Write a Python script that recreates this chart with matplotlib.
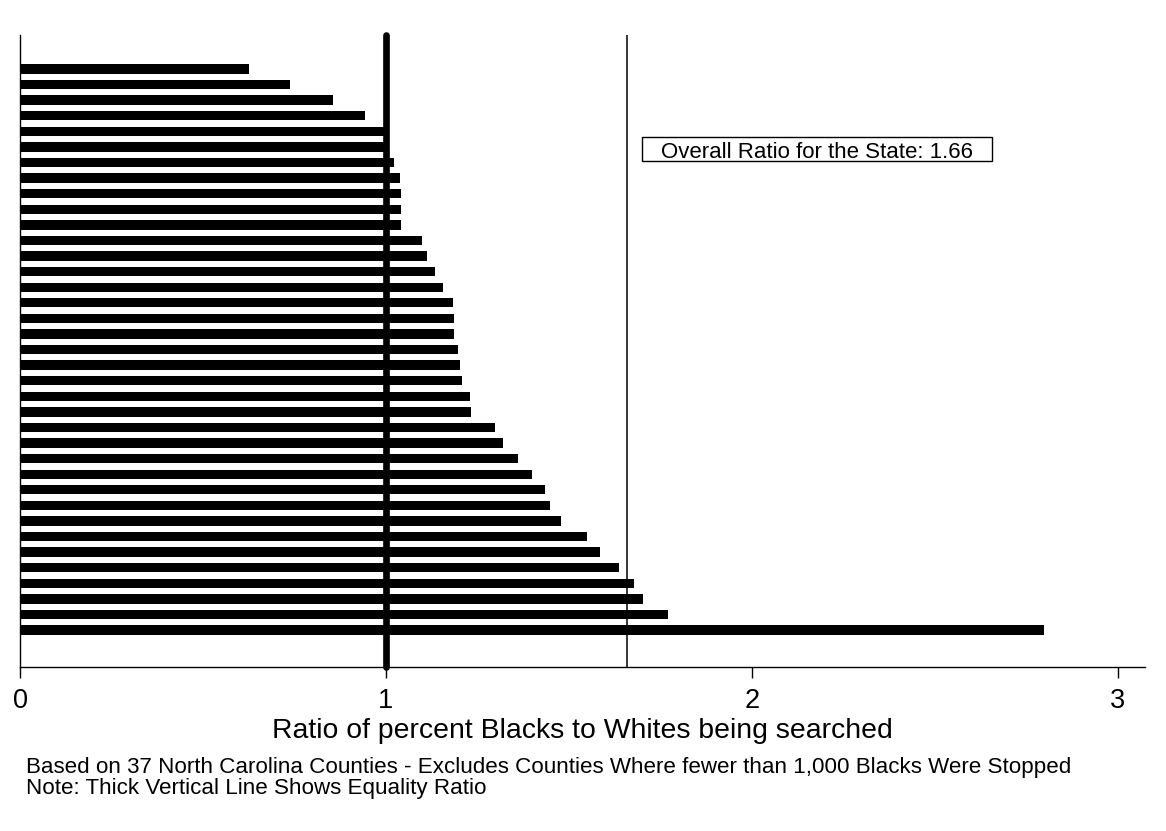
import matplotlib
matplotlib.use('Agg')
import matplotlib.pyplot as plt
from matplotlib.patches import Rectangle

plt.rcParams['font.family'] = ['Liberation Sans', 'DejaVu Sans']

# ratio of percent of Blacks to Whites searched, one bar per county (top to bottom)
ratios = [0.626, 0.738, 0.856, 0.942, 0.997, 1.0, 1.021, 1.038, 1.042, 1.042,
          1.042, 1.100, 1.112, 1.133, 1.155, 1.183, 1.187, 1.187, 1.198, 1.202,
          1.207, 1.231, 1.233, 1.297, 1.320, 1.361, 1.399, 1.435, 1.448, 1.478,
          1.549, 1.584, 1.636, 1.678, 1.703, 1.770, 2.80]
state_ratio = 1.66
equality = 1.0
xticks = [0, 1, 2, 3]

W, H = 1166, 831
fig = plt.figure(figsize=(W / 100, H / 100), dpi=100)
ax = fig.add_axes([20 / W, 1 - 667 / H, 1125 / W, 632 / H])

pos = list(range(len(ratios)))
ax.barh(pos, ratios, height=0.6, color='black', edgecolor='none')
ymax = len(ratios) - 1 + 2.37
ax.set_ylim(ymax, -2.18)
ax.set_xlim(0, 3.075)

ax.axvline(state_ratio, color='black', lw=1.1, zorder=3)
ax.plot([equality, equality], [ymax, -2.2], color='black',
        lw=4.8, solid_capstyle='round', zorder=4, clip_on=False)

# label box for the state ratio
fig.patches.append(Rectangle((642 / W, 1 - 161 / H), 350 / W, 24 / H,
                             transform=fig.transFigure, fill=False,
                             ec='black', lw=1.0))
fig.text(817 / W, 1 - 158 / H, 'Overall Ratio for the State: %.2f' % state_ratio,
         fontsize=16, ha='center', va='baseline')

ax.spines['top'].set_visible(False)
ax.spines['right'].set_visible(False)
ax.spines['left'].set_linewidth(1.0)
ax.spines['bottom'].set_linewidth(1.0)
ax.set_yticks([])
ax.set_xticks(xticks)
ax.set_xticklabels([str(t) for t in xticks], fontsize=19.5)
ax.tick_params(axis='x', length=8, width=1.0, pad=7)
ax.set_xlabel('Ratio of percent Blacks to Whites being searched', fontsize=20.4)
ax.xaxis.label.set_va('baseline')
ax.xaxis.set_label_coords(0.4996, (667 - 738) / 632)

fig.text(26 / W, 1 - 773 / H,
         'Based on 37 North Carolina Counties - Excludes Counties Where fewer than 1,000 Blacks Were Stopped',
         fontsize=16.15, ha='left', va='baseline')
fig.text(26 / W, 1 - 794 / H, 'Note: Thick Vertical Line Shows Equality Ratio',
         fontsize=16.15, ha='left', va='baseline')

fig.savefig('out.png', dpi=100)
